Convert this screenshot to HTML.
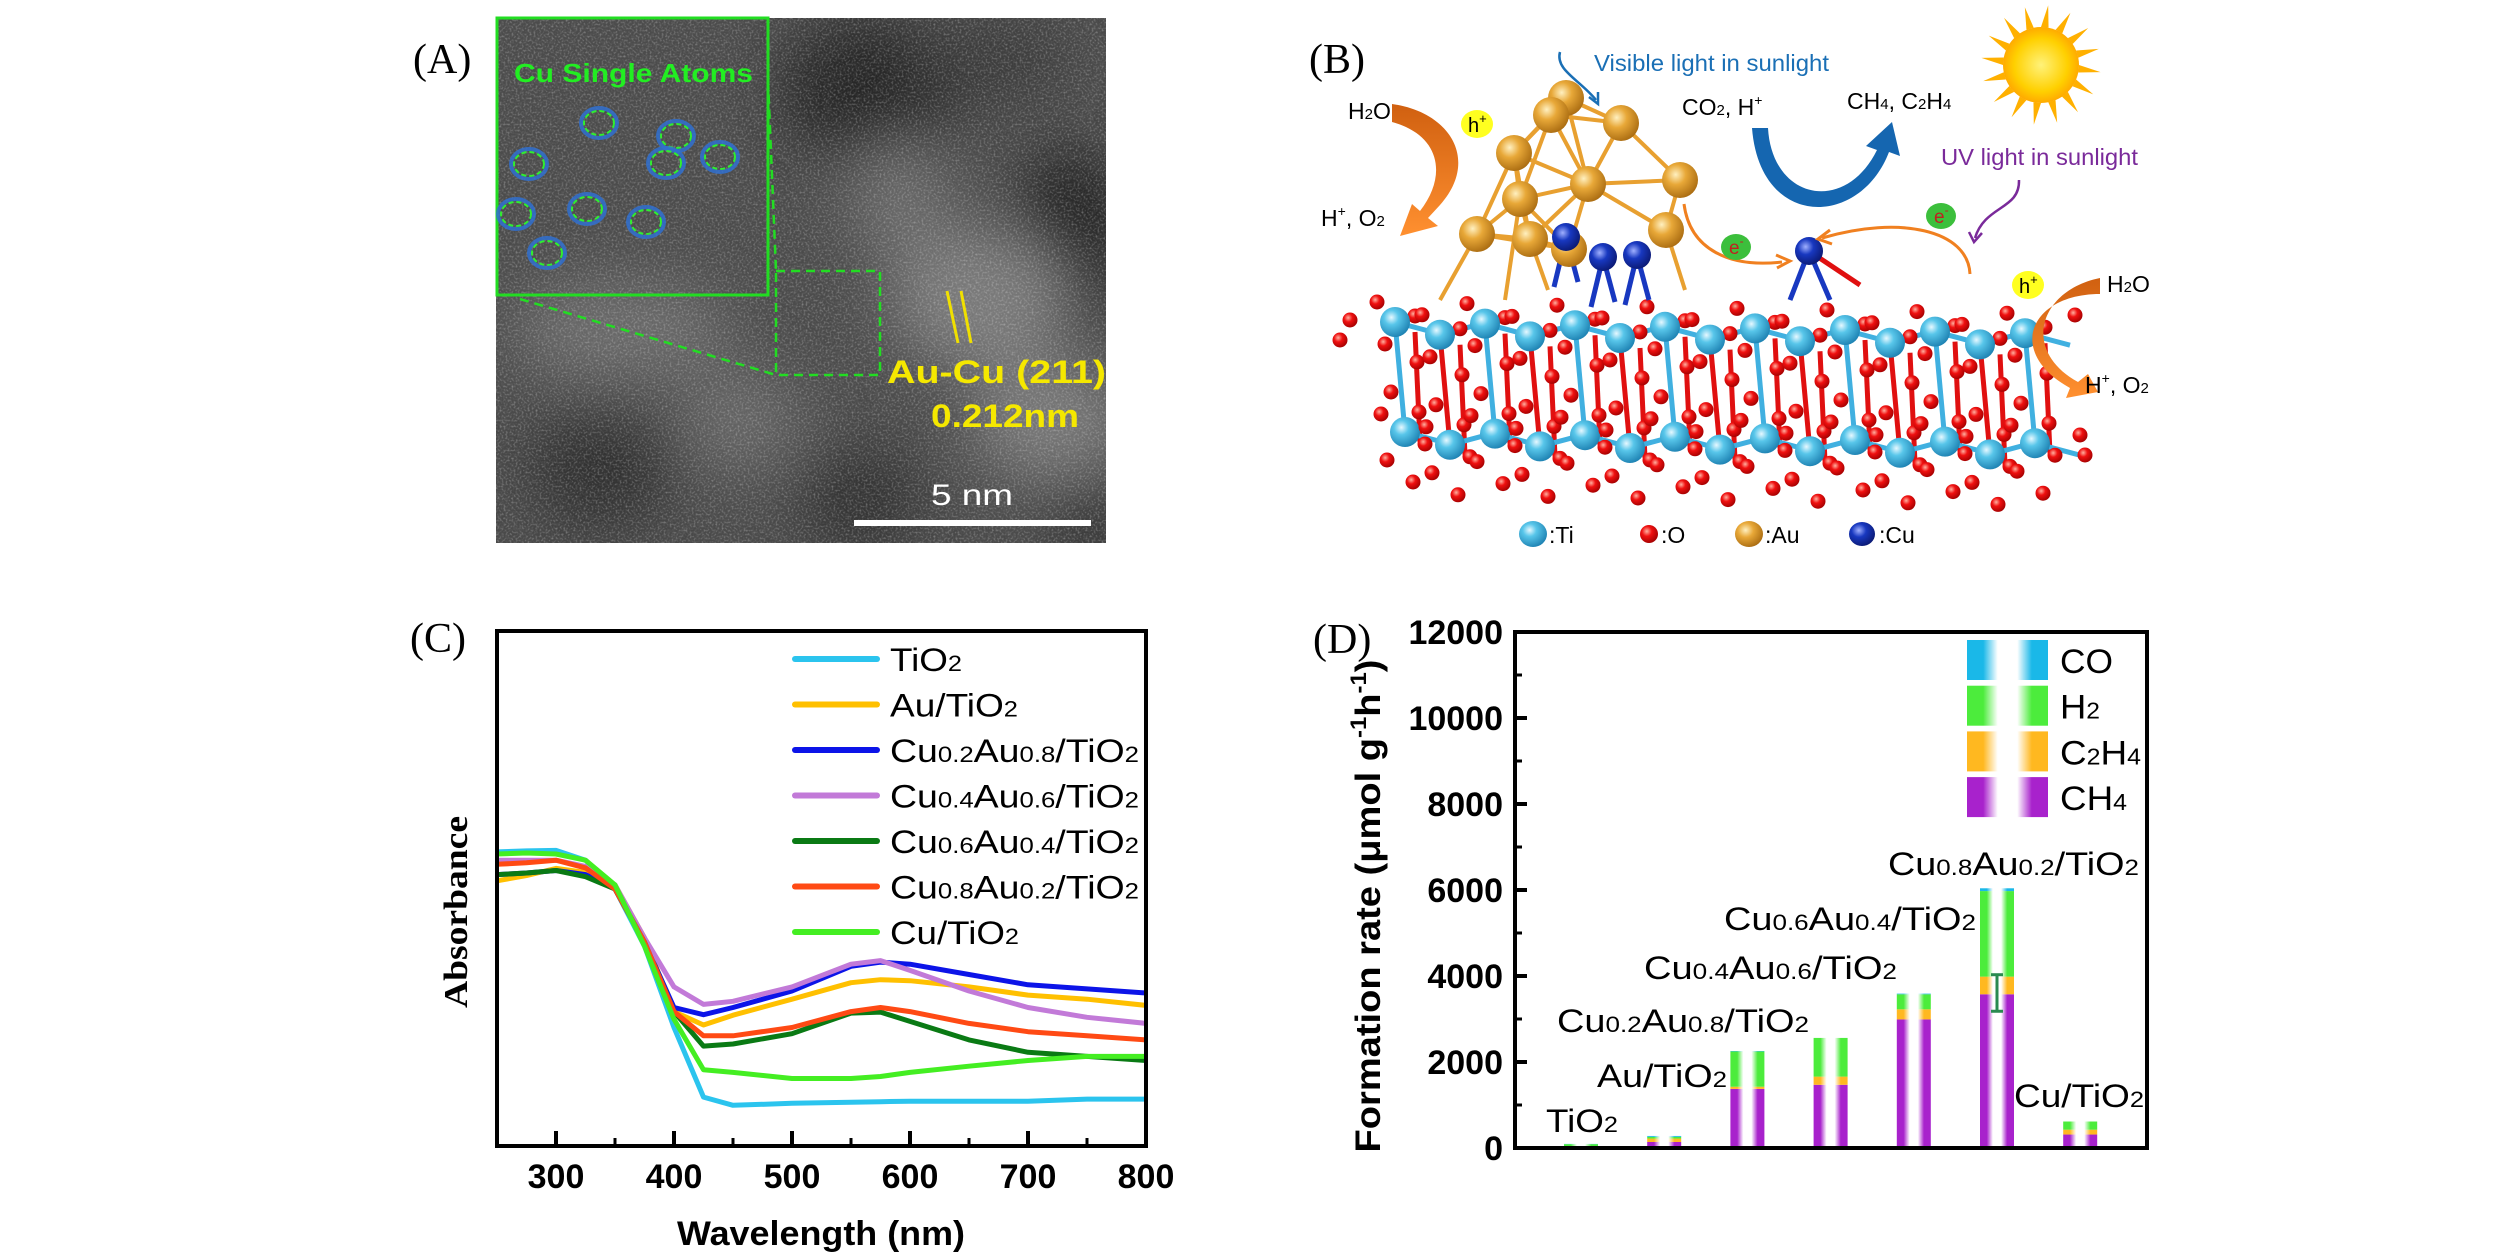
<!DOCTYPE html>
<html><head><meta charset="utf-8"><title>Figure</title>
<style>
html,body{margin:0;padding:0;background:#fff;}
svg{display:block;}
.t{font-family:"Liberation Sans",Arial,sans-serif;}
.s{font-family:"Liberation Serif","Times New Roman",serif;}
</style></head>
<body>
<svg id="fig" width="2520" height="1260" viewBox="0 0 2520 1260" xmlns="http://www.w3.org/2000/svg">
<defs>
  <radialGradient id="gTi" cx="0.38" cy="0.35" r="0.7"><stop offset="0" stop-color="#e6f8ff"/><stop offset="0.35" stop-color="#58c6ea"/><stop offset="1" stop-color="#1b7fb0"/></radialGradient>
  <radialGradient id="gO" cx="0.38" cy="0.35" r="0.7"><stop offset="0" stop-color="#ffb0a0"/><stop offset="0.4" stop-color="#f01010"/><stop offset="1" stop-color="#a00000"/></radialGradient>
  <radialGradient id="gAu" cx="0.38" cy="0.35" r="0.7"><stop offset="0" stop-color="#fff0c0"/><stop offset="0.4" stop-color="#e8a838"/><stop offset="1" stop-color="#a86a10"/></radialGradient>
  <radialGradient id="gCu" cx="0.38" cy="0.35" r="0.7"><stop offset="0" stop-color="#a0b0ff"/><stop offset="0.4" stop-color="#1838c0"/><stop offset="1" stop-color="#0a1870"/></radialGradient>
  <radialGradient id="gSun" cx="0.5" cy="0.5" r="0.5"><stop offset="0" stop-color="#fff27a"/><stop offset="0.7" stop-color="#ffd000"/><stop offset="1" stop-color="#ffaa00"/></radialGradient>
  <linearGradient id="gOr" x1="0" y1="0" x2="0" y2="1"><stop offset="0" stop-color="#d06010"/><stop offset="1" stop-color="#ff9030"/></linearGradient>
  <filter id="blur30" x="-50%" y="-50%" width="200%" height="200%"><feGaussianBlur stdDeviation="30"/></filter>
  <filter id="noise" x="0" y="0" width="100%" height="100%">
    <feTurbulence type="fractalNoise" baseFrequency="0.5" numOctaves="2" seed="3" result="n"/>
    <feColorMatrix type="matrix" values="0 0 0 0 1  0 0 0 0 1  0 0 0 0 1  0 0 0 2.4 -1.1" in="n"/>
  </filter>
  <clipPath id="clipA"><rect x="496" y="18" width="610" height="525"/></clipPath>
</defs>
<rect x="0" y="0" width="2520" height="1260" fill="#ffffff"/>

<!-- ================= PANEL A ================= -->
<g id="panelA">
  <text class="s" x="413" y="73" font-size="42" fill="#000">(A)</text>
  <g clip-path="url(#clipA)">
    <rect x="496" y="18" width="610" height="525" fill="#4c4c4c"/>
    <g filter="url(#blur30)">
      <ellipse cx="870" cy="90" rx="90" ry="70" fill="#262626"/>
      <ellipse cx="1070" cy="240" rx="55" ry="90" fill="#222"/>
      <ellipse cx="990" cy="60" rx="80" ry="40" fill="#3a3a3a"/>
      <ellipse cx="980" cy="300" rx="90" ry="70" fill="#7a7a7a"/>
      <ellipse cx="900" cy="200" rx="50" ry="60" fill="#6a6a6a"/>
      <ellipse cx="1050" cy="420" rx="80" ry="60" fill="#787878"/>
      <ellipse cx="620" cy="330" rx="110" ry="50" fill="#6c6c6c"/>
      <ellipse cx="600" cy="470" rx="70" ry="60" fill="#333"/>
      <ellipse cx="860" cy="500" rx="60" ry="50" fill="#303030"/>
      <ellipse cx="740" cy="420" rx="60" ry="50" fill="#686868"/>
      <ellipse cx="1090" cy="520" rx="40" ry="40" fill="#303030"/>
    </g>
    <rect x="496" y="18" width="610" height="525" filter="url(#noise)" opacity="0.3"/>
  </g>
  <rect x="497" y="18" width="271" height="277" fill="none" stroke="#22dd22" stroke-width="3"/>
  <text class="t" x="514" y="82" font-size="26" font-weight="bold" fill="#22ee22" textLength="239" lengthAdjust="spacingAndGlyphs">Cu Single Atoms</text>
  <g id="atomCircles"></g>
  <g fill="none" stroke="#22dd22" stroke-width="2.5" stroke-dasharray="9,6">
    <rect x="776" y="271" width="104" height="104"/>
    <line x1="520" y1="299" x2="776" y2="375"/>
    <line x1="768" y1="80" x2="776" y2="271"/>
  </g>
  <g stroke="#f0e000" stroke-width="3">
    <line x1="947" y1="291" x2="958" y2="343"/>
    <line x1="961" y1="291" x2="971" y2="343"/>
  </g>
  <text class="t" x="887" y="383" font-size="32" font-weight="bold" fill="#f5e800" textLength="219" lengthAdjust="spacingAndGlyphs">Au-Cu  (211)</text>
  <text class="t" x="931" y="427" font-size="32" font-weight="bold" fill="#f5e800" textLength="148" lengthAdjust="spacingAndGlyphs">0.212nm</text>
  <text class="t" x="931" y="505" font-size="30" fill="#ffffff" textLength="82" lengthAdjust="spacingAndGlyphs">5 nm</text>
  <rect x="854" y="520" width="237" height="6" fill="#ffffff"/>
</g>

<!-- ================= PANEL B ================= -->
<g id="panelB">
  <text class="s" x="1309" y="73" font-size="42" fill="#000">(B)</text>
  <g id="crystal"></g>
  <g id="cluster"></g>
  <g id="sun"></g>
  <path d="M1392,104 C1450,112 1480,160 1440,205 L1428,218 L1438,226 L1400,236 L1412,204 L1420,211 C1448,175 1440,135 1392,122 Z" fill="url(#gOr)"/>
  <path d="M2100,278 C2040,290 2020,350 2078,382 L2088,374 L2098,392 L2066,398 L2070,388 C2005,352 2030,294 2100,294 Z" fill="url(#gOr)"/>
  <path d="M1752,128 L1768,128 C1772,200 1845,215 1877,150 L1866,146 L1892,122 L1900,156 L1889,152 C1860,228 1760,230 1752,128 Z" fill="#1566b0"/>
  <path d="M1684,204 C1690,250 1730,268 1782,262" fill="none" stroke="#f08020" stroke-width="3"/>
  <path d="M1776,255 L1790,261 L1777,268" fill="none" stroke="#f08020" stroke-width="3"/>
  <path d="M1970,274 C1968,230 1900,215 1822,238" fill="none" stroke="#f08020" stroke-width="3"/>
  <path d="M1830,230 L1818,239 L1832,244" fill="none" stroke="#f08020" stroke-width="3"/>
  <path d="M1560,52 C1555,70 1580,80 1596,100" fill="none" stroke="#1a6fb5" stroke-width="2.5"/>
  <path d="M1589,97 L1598,104 L1598,92" fill="none" stroke="#1a6fb5" stroke-width="2.5"/>
  <path d="M2019,180 C2020,210 1985,205 1975,238" fill="none" stroke="#7a2a9a" stroke-width="2.5"/>
  <path d="M1969,232 L1974,242 L1982,233" fill="none" stroke="#7a2a9a" stroke-width="2.5"/>
  <g><ellipse cx="1477" cy="124" rx="16" ry="14" fill="#ffff20"/><text class="t" x="1468" y="132" font-size="20" fill="#000">h<tspan font-size="13" dy="-9">+</tspan></text></g>
  <g><ellipse cx="2028" cy="285" rx="16" ry="14" fill="#ffff20"/><text class="t" x="2019" y="293" font-size="20" fill="#000">h<tspan font-size="13" dy="-9">+</tspan></text></g>
  <g><ellipse cx="1736" cy="247" rx="15" ry="13" fill="#3cbf3c"/><text class="t" x="1729" y="254" font-size="19" fill="#c02020">e<tspan font-size="12" dy="-9">-</tspan></text></g>
  <g><ellipse cx="1941" cy="216" rx="15" ry="13" fill="#3cbf3c"/><text class="t" x="1934" y="223" font-size="19" fill="#c02020">e<tspan font-size="12" dy="-9">-</tspan></text></g>
  <text class="t" x="1594" y="71" font-size="23" fill="#1a6fb5" textLength="235" lengthAdjust="spacingAndGlyphs">Visible light in sunlight</text>
  <text class="t" x="1941" y="165" font-size="23" fill="#7a2a9a" textLength="197" lengthAdjust="spacingAndGlyphs">UV light in sunlight</text>
  <text class="t" x="1348" y="119" font-size="23" fill="#000">H<tspan font-size="15">2</tspan>O</text>
  <text class="t" x="1321" y="226" font-size="23" fill="#000">H<tspan font-size="14" dy="-10">+</tspan><tspan dy="10">, O</tspan><tspan font-size="15">2</tspan></text>
  <text class="t" x="1682" y="115" font-size="23" fill="#000">CO<tspan font-size="15">2</tspan>, H<tspan font-size="14" dy="-10">+</tspan></text>
  <text class="t" x="1847" y="109" font-size="23" fill="#000">CH<tspan font-size="15">4</tspan>, C<tspan font-size="15">2</tspan>H<tspan font-size="15">4</tspan></text>
  <text class="t" x="2107" y="292" font-size="23" fill="#000">H<tspan font-size="15">2</tspan>O</text>
  <text class="t" x="2085" y="393" font-size="23" fill="#000">H<tspan font-size="14" dy="-10">+</tspan><tspan dy="10">, O</tspan><tspan font-size="15">2</tspan></text>
  <g>
    <ellipse cx="1533" cy="534" rx="14" ry="13" fill="url(#gTi)"/><text class="t" x="1549" y="543" font-size="23">:Ti</text>
    <ellipse cx="1649" cy="534" rx="9" ry="9" fill="url(#gO)"/><text class="t" x="1661" y="543" font-size="23">:O</text>
    <ellipse cx="1749" cy="534" rx="14" ry="13" fill="url(#gAu)"/><text class="t" x="1765" y="543" font-size="23">:Au</text>
    <ellipse cx="1862" cy="534" rx="13" ry="12" fill="url(#gCu)"/><text class="t" x="1879" y="543" font-size="23">:Cu</text>
  </g>
</g>

<!-- ================= PANEL C ================= -->
<g id="panelC">
  <text class="s" x="410" y="652" font-size="42" fill="#000">(C)</text>
  <g id="cPlot"></g>
</g>

<!-- ================= PANEL D ================= -->
<g id="panelD">
  <text class="s" x="1313" y="653" font-size="42" fill="#000">(D)</text>
  <g id="dPlot"></g>
</g>
</svg>

<script>
// ---------- Panel C data ----------
const wavelengths = [250,275,300,325,350,375,400,425,450,500,550,575,600,650,700,750,800];
const seriesNames = ["TiO2","Au/TiO2","Cu0.2Au0.8/TiO2","Cu0.4Au0.6/TiO2","Cu0.6Au0.4/TiO2","Cu0.8Au0.2/TiO2","Cu/TiO2"];
const absTiO2   = [57.1,57.3,57.4,55.5,49.9,38.8,23.0,9.5,7.9,8.3,8.5,8.6,8.7,8.7,8.7,9.1,9.1];
const absAu     = [51.5,52.5,53.9,53.1,50.7,40.4,26.1,23.5,25.4,28.5,31.7,32.3,32.1,30.9,29.3,28.5,27.3];
const absCu02   = [52.7,53.0,53.5,52.7,49.9,39.6,26.9,25.5,26.9,30.1,34.9,35.7,35.3,33.3,31.3,30.5,29.7];
const absCu04   = [55.5,55.5,55.5,54.3,50.7,40.4,30.9,27.5,28.1,30.9,35.3,36.0,34.1,30.1,26.9,25.0,23.8];
const absCu06   = [52.7,53.0,53.5,52.3,49.9,39.6,26.1,19.4,19.8,21.8,25.8,26.0,24.2,20.6,18.2,17.4,16.6];
const absCu08   = [54.7,55.0,55.5,54.0,49.9,39.6,26.1,21.4,21.4,23.0,26.1,26.9,26.1,23.8,22.2,21.4,20.6];
const absCu     = [56.7,56.9,56.7,55.5,50.7,38.8,24.6,14.8,14.3,13.1,13.1,13.5,14.3,15.5,16.6,17.4,17.4];
const xTicksC = [300,400,500,600,700,800];
const xMinorC = [350,450,550,650,750];

// ---------- Panel D data ----------
const catalysts = ["TiO2","Au/TiO2","Cu0.2Au0.8/TiO2","Cu0.4Au0.6/TiO2","Cu0.6Au0.4/TiO2","Cu0.8Au0.2/TiO2","Cu/TiO2"];
const ch4Rate  = [30,140,1375,1470,2990,3575,313];
const c2h4Rate = [10,80,50,190,235,410,113];
const h2Rate   = [50,40,820,900,350,1990,190];
const coRate   = [5,20,10,0,15,65,0];
const errLow   = [0,0,0,0,0,3180,0];
const errHigh  = [0,0,0,0,0,4030,0];
const yTicksD  = [0,2000,4000,6000,8000,10000,12000];
const yMinorD  = [1000,3000,5000,7000,9000,11000];

const NS = "http://www.w3.org/2000/svg";
function mk(tag, attrs, parent){ const e=document.createElementNS(NS,tag); for(const k in attrs) e.setAttribute(k,attrs[k]); if(parent) parent.appendChild(e); return e; }
function labelWithSubs(parent, text, x, y, size, attrs){
  const t = mk('text', Object.assign({x:x,y:y,'font-size':size,'class':'t',fill:'#000'}, attrs||{}), parent);
  const parts = text.match(/(\d+\.\d+|\d+|[^\d]+)/g);
  parts.forEach(p=>{ const ts=mk('tspan',{},t); if(/^\d/.test(p)) ts.setAttribute('font-size', Math.round(size*0.68)); ts.textContent=p; });
  return t;
}

// ================= Panel C drawing =================
(function(){
  const g = document.getElementById('cPlot');
  const L=497, R=1146, T=631, B=1146;
  const xC = w => L + (w-250)/550*(R-L);
  const yC = v => B - v/100*(B-T);
  const colors = ["#2bc4ee","#ffc000","#0c14e8","#c27ad8","#0a7a14","#ff4a14","#44ee22"];
  const all = [absTiO2,absAu,absCu02,absCu04,absCu06,absCu08,absCu];
  const keys = ["tio2","au","cu02au08","cu04au06","cu06au04","cu08au02","cu"];
  all.forEach((arr,i)=>{
    const d = arr.map((v,j)=>(j?'L':'M')+xC(wavelengths[j]).toFixed(1)+','+yC(v).toFixed(1)).join(' ');
    const p = mk('path',{d:d,fill:'none',stroke:colors[i],'stroke-width':5,'stroke-linejoin':'round'},g);
    
    
  });
  const frame = mk('rect',{x:L,y:T,width:R-L,height:B-T,fill:'none',stroke:'#000','stroke-width':4},g);
  
  
  xTicksC.forEach(w=>{
    const tk = mk('line',{x1:xC(w),x2:xC(w),y1:B,y2:B-15,stroke:'#000','stroke-width':4},g);
    
    
    const tl = mk('text',{x:xC(w),y:1188,'font-size':34,'font-weight':'bold','text-anchor':'middle','class':'t'},g);
    tl.textContent = w;
    
    
  });
  xMinorC.forEach(w=>{
    const tk = mk('line',{x1:xC(w),x2:xC(w),y1:B,y2:B-8,stroke:'#000','stroke-width':3},g);
    
    
  });
  const xt = mk('text',{x:821,y:1245,'font-size':34,'font-weight':'bold','text-anchor':'middle','class':'t',textLength:288,lengthAdjust:'spacingAndGlyphs'},g);
  xt.textContent='Wavelength (nm)';
  
  
  const yt = mk('text',{x:0,y:0,'font-size':34,'font-weight':'bold','text-anchor':'middle','class':'s',textLength:192,lengthAdjust:'spacingAndGlyphs',transform:'translate(467,912) rotate(-90)'},g);
  yt.textContent='Absorbance';
  
  
  const widths=[72,128,249,249,249,249,129];
  seriesNames.forEach((n,i)=>{
    const cy = 659 + i*45.5;
    const lg = mk('g',{},g);
    
    
    mk('line',{x1:795,x2:877,y1:cy,y2:cy,stroke:colors[i],'stroke-width':6,'stroke-linecap':'round'},lg);
    labelWithSubs(lg, n, 890, cy+12, 32, {textLength:widths[i], lengthAdjust:'spacingAndGlyphs'});
  });
})();

// ================= Panel D drawing =================
(function(){
  const g = document.getElementById('dPlot');
  const L=1515, R=2147, T=632, B=1148;
  const yD = v => B - v/12000*(B-T);
  const xD = i => 1581 + i*83.2;
  const barW = 34;
  const sp = [["ch4",ch4Rate,"#a822cc"],["c2h4",c2h4Rate,"#ffb820"],["h2",h2Rate,"#4cec3c"],["co",coRate,"#1ab8e8"]];
  const defs = document.querySelector('defs');
  sp.forEach(s=>{
    const lgd = mk('linearGradient',{id:'bar-'+s[0],x1:0,y1:0,x2:1,y2:0},defs);
    [[0,1],[0.2,1],[0.38,0],[0.62,0],[0.8,1],[1,1]].forEach(st=>{
      mk('stop',{offset:st[0],'stop-color':st[1]?s[2]:'#ffffff'},lgd);
    });
  });
  catalysts.forEach((c,i)=>{
    let base = 0;
    sp.forEach(s=>{
      const v = s[1][i];
      if(v<=0) return;
      const r = mk('rect',{x:xD(i)-barW/2,y:yD(base+v),width:barW,height:yD(base)-yD(base+v),fill:'url(#bar-'+s[0]+')'},g);
      
      
      base += v;
    });
    if(errHigh[i]>0){
      const eg = mk('g',{stroke:'#2a8a50','stroke-width':3},g);
      
      
      mk('line',{x1:xD(i),x2:xD(i),y1:yD(errLow[i]),y2:yD(errHigh[i])},eg);
      mk('line',{x1:xD(i)-6,x2:xD(i)+6,y1:yD(errLow[i]),y2:yD(errLow[i])},eg);
      mk('line',{x1:xD(i)-6,x2:xD(i)+6,y1:yD(errHigh[i]),y2:yD(errHigh[i])},eg);
    }
  });
  const frame = mk('rect',{x:L,y:T,width:R-L,height:B-T,fill:'none',stroke:'#000','stroke-width':4},g);
  
  
  yTicksD.forEach(v=>{
    const tk = mk('line',{x1:L,x2:L+12,y1:yD(v),y2:yD(v),stroke:'#000','stroke-width':4},g);
    
    
    const tl = mk('text',{x:1503,y:yD(v)+12,'font-size':34,'font-weight':'bold','text-anchor':'end','class':'t'},g);
    tl.textContent = v;
    
    
  });
  yMinorD.forEach(v=>{
    const tk = mk('line',{x1:L,x2:L+7,y1:yD(v),y2:yD(v),stroke:'#000','stroke-width':3},g);
    
    
  });
  const yt = mk('text',{x:0,y:0,'font-size':35,'font-weight':'bold','text-anchor':'middle','class':'t',textLength:493,lengthAdjust:'spacingAndGlyphs',transform:'translate(1380,906) rotate(-90)'},g);
  yt.innerHTML = 'Formation rate (μmol g<tspan font-size="22" dy="-14">-1</tspan><tspan dy="14">h</tspan><tspan font-size="22" dy="-14">-1</tspan><tspan dy="14">)</tspan>';
  
  
  const labX = [1546,1597,1557,1644,1724,1888,2014];
  const labY = [1132,1087,1032,979,930,875,1107];
  const labW = [72,130,252,253,252,251,130];
  catalysts.forEach((c,i)=>{
    const t = labelWithSubs(g, c, labX[i], labY[i], 32, {textLength:labW[i], lengthAdjust:'spacingAndGlyphs'});
    
    
  });
  const lnames=["CO","H2","C2H4","CH4"], lkeys=["co","h2","c2h4","ch4"], lw=[53,40,81,67];
  lnames.forEach((n,i)=>{
    const y0 = 640 + i*45.7;
    const lg = mk('g',{},g);
    
    
    mk('rect',{x:1967,y:y0,width:81,height:40,fill:'url(#bar-'+lkeys[i]+')'},lg);
    labelWithSubs(lg, n, 2060, y0+33, 34, {textLength:lw[i], lengthAdjust:'spacingAndGlyphs'});
  });
})();

// ================= Panel A circles =================
(function(){
  const g = document.getElementById('atomCircles');
  const pts = [[599,123],[676,136],[720,157],[666,163],[529,164],[516,214],[587,209],[646,222],[547,253]];
  pts.forEach((p,i)=>{
    const c = mk('g',{},g);
    
    
    mk('ellipse',{cx:p[0],cy:p[1],rx:18,ry:15,fill:'none',stroke:'#3070d0','stroke-width':4,opacity:0.85},c);
    mk('ellipse',{cx:p[0],cy:p[1],rx:15,ry:12,fill:'none',stroke:'#30ee30','stroke-width':2,'stroke-dasharray':'5,3'},c);
  });
})();

// ================= Panel B decoration =================
(function(){
  const g = document.getElementById('crystal');
  const bonds = mk('g',{'stroke-width':5},g);
  const atoms = mk('g',{},g);
  const cols = 15;
  for(let i=0;i<cols;i++){
    const x = 1395 + i*45;
    const tilt = i*0.8;
    const yt = 322 + (i%2?12:0) + tilt;
    const yb = 432 + (i%2?12:0) + tilt;
    mk('line',{x1:x,y1:yt,x2:x+10,y2:yb,stroke:i%2?'#e01010':'#40b0e0'},bonds);
    mk('line',{x1:x+20,y1:yt+10,x2:x+25,y2:yb+10,stroke:'#e01010'},bonds);
    mk('line',{x1:x,y1:yt,x2:x+45,y2:yt+(i%2?-12:12),stroke:'#40b0e0'},bonds);
    mk('line',{x1:x+10,y1:yb,x2:x+55,y2:yb+(i%2?-12:12),stroke:'#40b0e0'},bonds);
  }
  for(let i=0;i<cols;i++){
    const x = 1395 + i*45, tilt=i*0.8;
    const yt = 322 + (i%2?12:0) + tilt, yb = 432 + (i%2?12:0) + tilt;
    [[x-18,yt-20],[x+20,yt-6],[x-10,yt+22],[x+22,yt+40],[x-4,yt+70],[x+24,yt+90],[x-14,yb-18],[x+30,yb+12],[x-8,yb+28],[x+18,yb+50]].forEach(p=>{
      mk('circle',{cx:p[0],cy:p[1],r:7.5,fill:'url(#gO)'},atoms);
    });
    mk('circle',{cx:x,cy:yt,r:15,fill:'url(#gTi)'},atoms);
    mk('circle',{cx:x+10,cy:yb,r:15,fill:'url(#gTi)'},atoms);
  }
  [[1340,340],[1350,320],[2075,315],[2080,435],[2085,455]].forEach(p=>mk('circle',{cx:p[0],cy:p[1],r:7.5,fill:'url(#gO)'},atoms));

  const c = document.getElementById('cluster');
  const au = [[1566,98],[1551,115],[1621,123],[1514,153],[1588,184],[1680,180],[1520,199],[1477,234],[1530,239],[1666,230],[1569,249]];
  const cu = [[1566,237],[1603,257],[1637,255]];
  const bg = mk('g',{stroke:'#e8a030','stroke-width':4},c);
  for(let a=0;a<au.length;a++) for(let b=a+1;b<au.length;b++){
    const dx=au[a][0]-au[b][0], dy=au[a][1]-au[b][1];
    if(Math.hypot(dx,dy)<95) mk('line',{x1:au[a][0],y1:au[a][1],x2:au[b][0],y2:au[b][1]},bg);
  }
  [[1477,234,1440,300],[1520,199,1505,300],[1666,230,1685,290],[1530,239,1548,290]].forEach(l=>mk('line',{x1:l[0],y1:l[1],x2:l[2],y2:l[3]},bg));
  const cb = mk('g',{stroke:'#1838c0','stroke-width':5},c);
  cu.forEach(p=>{ mk('line',{x1:p[0],y1:p[1],x2:p[0]-12,y2:p[1]+50},cb); mk('line',{x1:p[0],y1:p[1],x2:p[0]+12,y2:p[1]+45},cb); });
  mk('line',{x1:1809,y1:251,x2:1790,y2:300},cb); mk('line',{x1:1809,y1:251,x2:1830,y2:300},cb); mk('line',{x1:1809,y1:251,x2:1860,y2:285,stroke:'#e01010'},cb);
  au.forEach(p=>mk('circle',{cx:p[0],cy:p[1],r:18,fill:'url(#gAu)'},c));
  cu.concat([[1809,251]]).forEach(p=>mk('circle',{cx:p[0],cy:p[1],r:14,fill:'url(#gCu)'},c));

  const s = document.getElementById('sun');
  for(let k=0;k<16;k++){
    const a = k/16*Math.PI*2;
    const x1=2041+Math.cos(a)*38, y1=65+Math.sin(a)*38, x2=2041+Math.cos(a+0.12)*60, y2=65+Math.sin(a+0.12)*60;
    const x3=2041+Math.cos(a+0.2)*38, y3=65+Math.sin(a+0.2)*38;
    mk('path',{d:`M${x1},${y1} L${x2},${y2} L${x3},${y3} Z`,fill:'#ffb000'},s);
  }
  mk('circle',{cx:2041,cy:65,r:38,fill:'url(#gSun)'},s);
})();
</script>
</body></html>
